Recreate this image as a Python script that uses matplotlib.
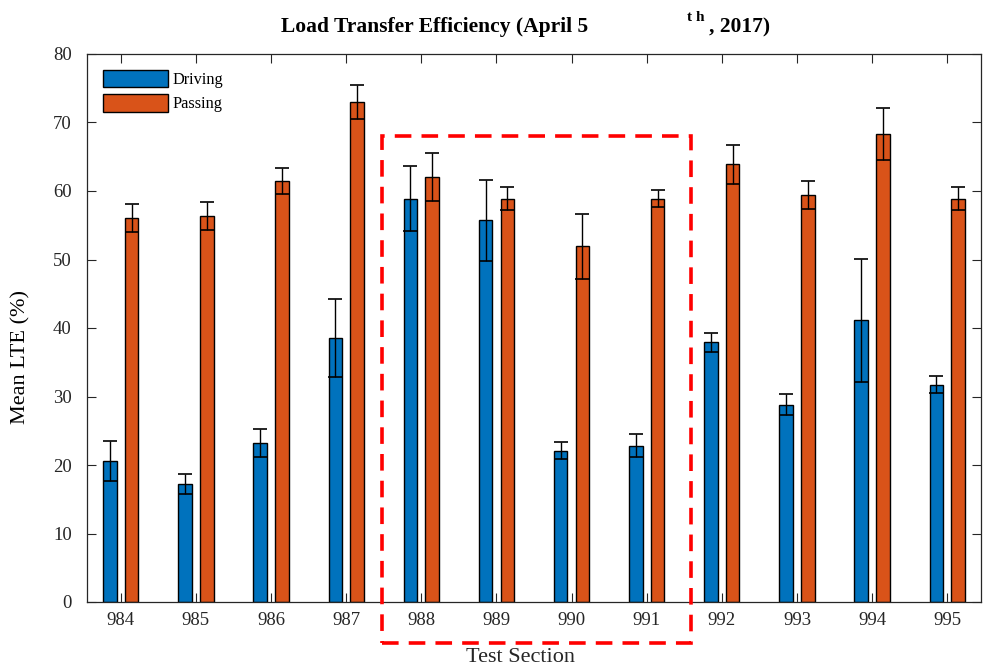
import matplotlib
matplotlib.use("Agg")
import matplotlib.pyplot as plt
from matplotlib.patches import Rectangle
import numpy as np

sections = ["984", "985", "986", "987", "988", "989", "990", "991", "992", "993", "994", "995"]
driving = [20.6, 17.2, 23.2, 38.5, 58.9, 55.7, 22.1, 22.8, 37.9, 28.8, 41.1, 31.7]
driving_err = [2.9, 1.45, 2.1, 5.7, 4.7, 5.9, 1.25, 1.7, 1.4, 1.5, 9.0, 1.25]
passing = [56.1, 56.3, 61.4, 72.95, 62.0, 58.9, 51.9, 58.9, 63.9, 59.4, 68.3, 58.9]
passing_err = [2.05, 2.05, 1.9, 2.5, 3.5, 1.7, 4.8, 1.3, 2.85, 2.0, 3.8, 1.65]

plt.rcParams['font.family'] = ['Liberation Serif', 'DejaVu Serif']

fig = plt.figure(figsize=(9.84, 6.69), dpi=100)
ax = fig.add_axes([87/984, 1-602/669, (981-87)/984, (602-54)/669])

x = np.arange(1, len(sections)+1)
off = 0.145
w = 0.18
blue = "#0072BD"
orange = "#D95319"
ax.bar(x-off, driving, w, color=blue, edgecolor="black", linewidth=1.0, label="Driving", zorder=2)
ax.bar(x+off, passing, w, color=orange, edgecolor="black", linewidth=1.0, label="Passing", zorder=2)
ax.errorbar(x-off, driving, yerr=driving_err, fmt="none", ecolor="black", elinewidth=1.0,
            capsize=4.7, capthick=1.2, zorder=3)
ax.errorbar(x+off, passing, yerr=passing_err, fmt="none", ecolor="black", elinewidth=1.0,
            capsize=4.7, capthick=1.2, zorder=3)

ax.set_xlim(0.55, 12.45)
ax.set_ylim(0, 80)
ax.set_xticks(x)
ax.set_xticklabels(sections)
ax.set_yticks(np.arange(0, 81, 10))
ax.tick_params(direction="in", length=6.5, width=0.8, colors="#262626", labelsize=13.5,
               top=True, right=True)
ax.tick_params(axis="x", pad=7)
ax.tick_params(axis="y", pad=11)
for s in ax.spines.values():
    s.set_color("#262626")
    s.set_linewidth(0.9)

fig.text(21/984, 1-357/669, "Mean LTE (%)", fontsize=16, rotation=90, ha="center", va="center",
         color="black")
fig.text(520/984, 1-657/669, "Test Section", fontsize=16, ha="center", va="center", color="#262626")

leg = ax.legend(loc="upper left", frameon=False, fontsize=11.8, handlelength=4.0, handleheight=1.28,
                handletextpad=0.25, labelspacing=0.37, borderaxespad=0.55, borderpad=0.4,
                bbox_to_anchor=(0.0, 1.0))

# title pieces
fig.text(281/984, 1-32/669, "Load Transfer Efficiency (April 5", fontsize=15.5, fontweight="bold",
         ha="left", va="baseline")
fig.text(687/984, 1-21/669, "t h", fontsize=11, fontweight="bold", ha="left", va="baseline")
fig.text(709/984, 1-32/669, ", 2017)", fontsize=15.5, fontweight="bold", ha="left", va="baseline")

# red dashed highlight box
rect = Rectangle((4.48, -6.0), 8.587-4.48, 68.1+6.0, fill=False, edgecolor="#FF0000",
                 linewidth=2.6, linestyle=(0, (4.6, 2.8)), clip_on=False, zorder=5)
ax.add_patch(rect)

fig.savefig("out.png", dpi=100)
